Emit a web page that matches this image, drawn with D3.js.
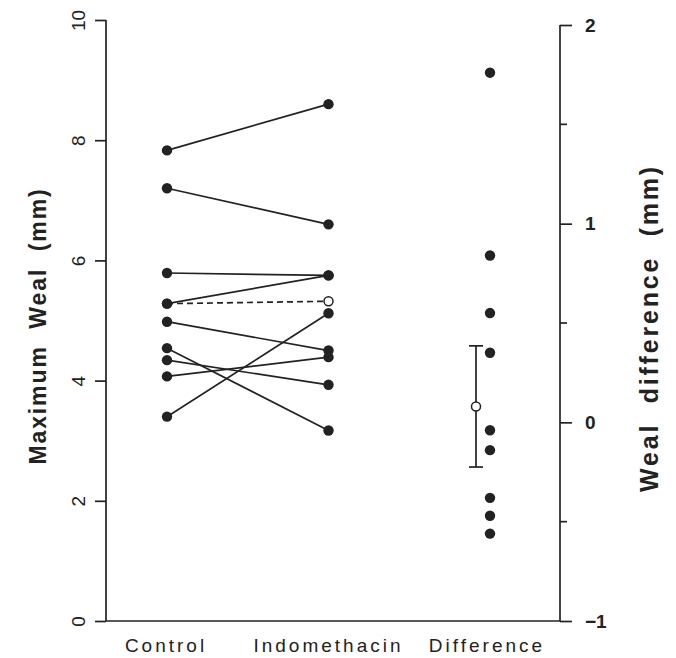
<!DOCTYPE html>
<html>
<head>
<meta charset="utf-8">
<script src="https://cdn.jsdelivr.net/npm/d3@7"></script>
<style>
  body { margin: 0; background: #fff; }
  svg { display: block; font-family: "Liberation Sans", Arial, sans-serif; }
</style>
</head>
<body>
<svg id="chart" width="676" height="658"></svg>
<script>
// values
const groups = ["Control", "Indomethacin", "Difference"];
const control = [7.83, 7.2, 5.79, 5.28, 4.98, 4.54, 4.34, 4.07, 3.4];
const indomethacin = [8.6, 6.6, 5.75, 5.75, 4.5, 3.17, 3.93, 4.39, 5.12];
const meanPair = [5.28, 5.32];
const differences = [1.76, 0.84, 0.55, 0.35, -0.04, -0.14, -0.38, -0.47, -0.56];
const diffMean = 0.08;
const diffErr = 0.305;
const leftTicks = [0, 2, 4, 6, 8, 10];
const rightTicks = [-1, 0, 1, 2];
const rightMinor = [-0.5, 0.5, 1.5];

const svg = d3.select("#chart");
const ink = "#222";

const x = d3.scalePoint().domain(groups).range([167, 490]);
const yL = d3.scaleLinear().domain([0, 10]).range([621, 20]);
const yR = d3.scaleLinear().domain([-1, 2]).range([621, 25]);
const axisLeftX = 106, axisRightX = 560;

// left axis
const gl = svg.append("g").attr("transform", `translate(${axisLeftX},0)`);
gl.call(d3.axisLeft(yL).tickValues(leftTicks).tickSize(11).tickFormat(d3.format("d")));
gl.select(".domain").attr("d", `M0,${yL(10)}V${yL(0)}`);

// right axis
const gr = svg.append("g").attr("transform", `translate(${axisRightX},0)`);
gr.call(d3.axisRight(yR).tickValues(rightTicks).tickSize(12).tickFormat(d => d < 0 ? "\u2212" + Math.abs(d) : d));
gr.select(".domain").attr("d", `M0,${yR(2)}V${yR(-1)}`);
gr.selectAll(".minor").data(rightMinor).enter().append("line")
  .attr("x1", 0).attr("x2", 7).attr("y1", d => yR(d)).attr("y2", d => yR(d));

// bottom line
svg.append("line").attr("x1", axisLeftX).attr("x2", axisRightX)
  .attr("y1", yL(0)).attr("y2", yL(0));

svg.selectAll(".domain, .tick line, line").attr("stroke", ink).attr("stroke-width", 1.7);

gl.selectAll(".tick text")
  .attr("transform", "rotate(-90)")
  .attr("x", 0).attr("y", -28).attr("dy", "0.35em")
  .attr("text-anchor", "middle")
  .style("font-size", "19px").attr("fill", ink);
gr.selectAll(".tick text").attr("x", 25).style("font-size", "19px")
  .style("font-weight", "bold").attr("fill", ink);

// category labels
svg.selectAll(".cat").data(groups).enter().append("text")
  .attr("x", (d, i) => x(d) - [1, 0, 3][i]).attr("y", 652)
  .attr("text-anchor", "middle")
  .style("font-size", "19px").style("letter-spacing", "3px")
  .attr("fill", ink).text(d => d);

// axis titles
svg.append("text")
  .attr("transform", `translate(46,326) rotate(-90)`)
  .attr("text-anchor", "middle")
  .style("font-size", "23px").style("font-weight", "bold").style("letter-spacing", "1.9px")
  .attr("fill", ink).attr("xml:space", "preserve")
  .text("Maximum  Weal  (mm)");
svg.append("text")
  .attr("transform", `translate(658,328) rotate(-90)`)
  .attr("text-anchor", "middle")
  .style("font-size", "25px").style("font-weight", "bold").style("letter-spacing", "2.8px")
  .attr("fill", ink).attr("xml:space", "preserve")
  .text("Weal  difference  (mm)");

// paired lines
const pairs = control.map((c, i) => [c, indomethacin[i]]);
svg.selectAll(".pair").data(pairs).enter().append("line")
  .attr("x1", x("Control")).attr("x2", x("Indomethacin"))
  .attr("y1", d => yL(d[0])).attr("y2", d => yL(d[1]))
  .attr("stroke", ink).attr("stroke-width", 1.7);

svg.append("line")
  .attr("x1", x("Control")).attr("x2", x("Indomethacin"))
  .attr("y1", yL(meanPair[0])).attr("y2", yL(meanPair[1]))
  .attr("stroke", ink).attr("stroke-width", 1.7).attr("stroke-dasharray", "6,4");

const dots = [];
pairs.forEach(p => {
  dots.push([x("Control"), yL(p[0])]);
  dots.push([x("Indomethacin"), yL(p[1])]);
});
dots.push([x("Control"), yL(meanPair[0])]);
differences.forEach(d => dots.push([x("Difference"), yR(d)]));

svg.selectAll(".dot").data(dots).enter().append("circle")
  .attr("cx", d => d[0]).attr("cy", d => d[1]).attr("r", 5.2)
  .attr("fill", ink);

// mean indomethacin open circle
svg.append("circle")
  .attr("cx", x("Indomethacin")).attr("cy", yL(meanPair[1])).attr("r", 4.5)
  .attr("fill", "#fff").attr("stroke", ink).attr("stroke-width", 1.5);

// difference mean with error bar
const ex = x("Difference") - 14;
const eb = svg.append("g").attr("stroke", ink).attr("stroke-width", 1.7);
eb.append("line").attr("x1", ex).attr("x2", ex)
  .attr("y1", yR(diffMean + diffErr)).attr("y2", yR(diffMean - diffErr));
[diffMean + diffErr, diffMean - diffErr].forEach(v => {
  eb.append("line").attr("x1", ex - 7).attr("x2", ex + 7)
    .attr("y1", yR(v)).attr("y2", yR(v));
});
svg.append("circle")
  .attr("cx", ex).attr("cy", yR(diffMean)).attr("r", 4.5)
  .attr("fill", "#fff").attr("stroke", ink).attr("stroke-width", 1.5);
</script>
</body>
</html>
